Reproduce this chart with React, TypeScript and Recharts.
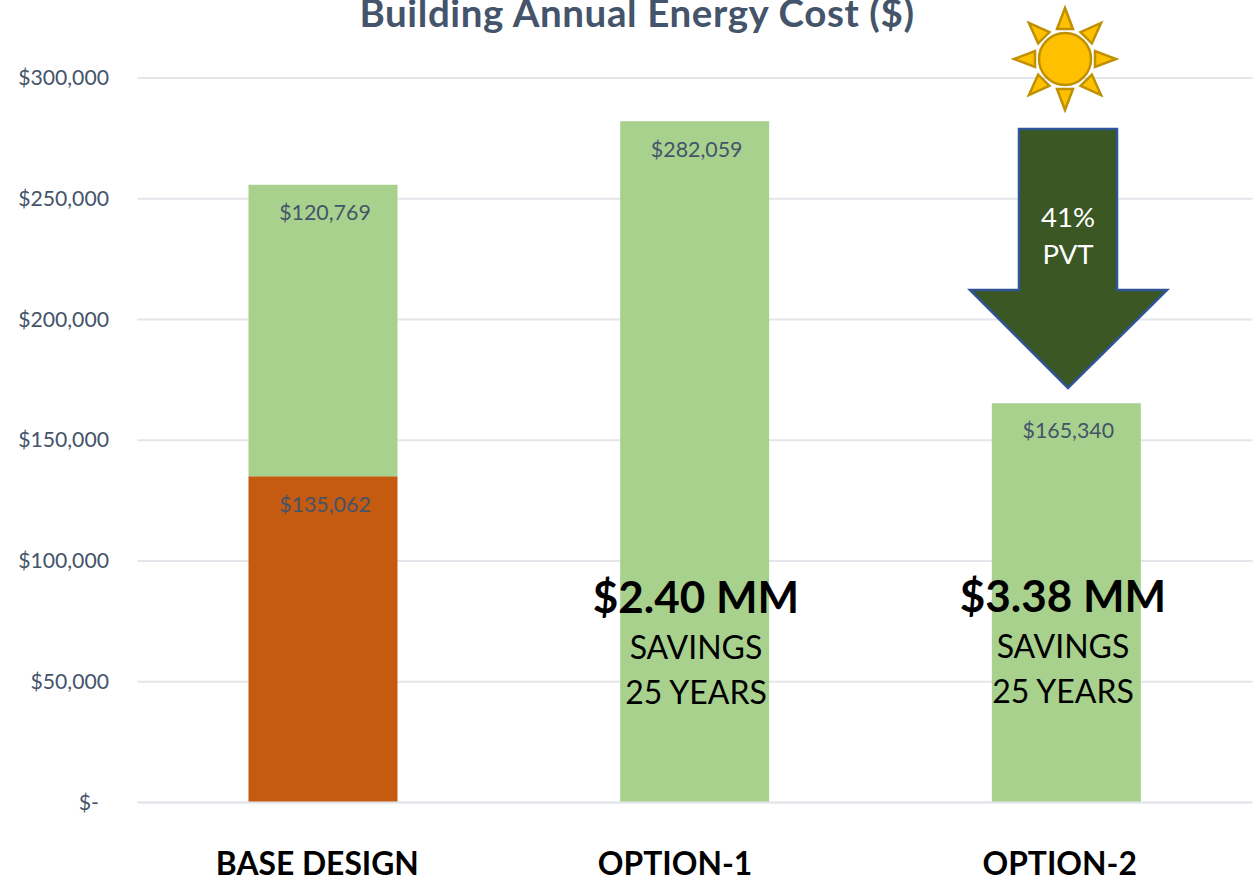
import React from "react";
import { BarChart, Bar, XAxis, YAxis, CartesianGrid, LabelList } from "recharts";

const categories = ["BASE DESIGN", "OPTION-1", "OPTION-2"];
const baseEnergyCost = [135062, null, null];
const remainingEnergyCost = [120769, 282059, 165340];
const yTicks = [0, 50000, 100000, 150000, 200000, 250000, 300000];
const chartTitle = "Building Annual Energy Cost ($)";
const savingsAmounts = ["$2.40 MM", "$3.38 MM"];
const savingsLines = ["SAVINGS", "25 YEARS"];
const arrowLines = ["41%", "PVT"];

const rows = categories.map((name, i) => ({
  name,
  base: baseEnergyCost[i],
  remaining: remainingEnergyCost[i],
}));

const FONT = "Lato, Carlito, sans-serif";
const SLATE = "#44546A";
const GRID = "#E3E6EB";

const money = (v: any) => (v == null ? "" : "$" + Number(v).toLocaleString("en-US"));

const XTickOffsets: Record<string, number> = { "BASE DESIGN": -6, "OPTION-1": -20, "OPTION-2": -7 };

function XTick({ x, payload }: any) {
  return (
    <text x={x + (XTickOffsets[payload.value] ?? 0)} y={875} textAnchor="middle" fontFamily={FONT} fontWeight={700} fontSize={31.8} fill="#000">
      {payload.value}
    </text>
  );
}

function YTick({ y, payload }: any) {
  const zero = payload.value === 0;
  return (
    <text x={zero ? 99 : 109} y={y + 7} textAnchor="end" fontFamily={FONT} fontSize={21.2} fill={SLATE}>
      {zero ? "$-" : money(payload.value)}
    </text>
  );
}

function Sun() {
  const cx = 1065;
  const cy = 59;
  const stroke = "#BF9000";
  return (
    <g>
      {[0, 45, 90, 135, 180, 225, 270, 315].map((a) => (
        <polygon
          key={a}
          points={`${cx},${cy - 51} ${cx + 8},${cy - 30} ${cx - 8},${cy - 30}`}
          transform={`rotate(${a} ${cx} ${cy})`}
          fill="#FFC000"
          stroke={stroke}
          strokeWidth={2.5}
        />
      ))}
      <circle cx={cx} cy={cy} r={26} fill="#FFC000" stroke={stroke} strokeWidth={2.5} />
    </g>
  );
}

function Savings({ x, y, amount }: { x: number; y: number; amount: string }) {
  return (
    <g fontFamily={FONT} fill="#000" textAnchor="middle">
      <text x={x} y={y} fontSize={44} fontWeight={700}>{amount}</text>
      <text x={x} y={y + 46} fontSize={32}>{savingsLines[0]}</text>
      <text x={x} y={y + 91} fontSize={32}>{savingsLines[1]}</text>
    </g>
  );
}

function Annotations() {
  return (
    <svg width={1253} height={879} style={{ position: "absolute", left: 0, top: 0, pointerEvents: "none" }}>
      <text x={637} y={27} textAnchor="middle" fontFamily={FONT} fontWeight={700} fontSize={38.5} letterSpacing={0.6} fill={SLATE}>
        {chartTitle}
      </text>
      <Sun />
      <polygon
        points="1019,129 1117,129 1117,290 1167,290 1068,388 970,290 1019,290"
        fill="#3B5723"
        stroke="#2F5597"
        strokeWidth={2.5}
      />
      <g fontFamily={FONT} fill="#fff" textAnchor="middle" fontSize={27.5}>
        <text x={1068} y={227}>{arrowLines[0]}</text>
        <text x={1068} y={264}>{arrowLines[1]}</text>
      </g>
      <Savings x={696} y={613} amount={savingsAmounts[0]} />
      <Savings x={1063} y={612} amount={savingsAmounts[1]} />
    </svg>
  );
}

export default function App() {
  return (
    <div style={{ position: "absolute", left: 0, top: 0, width: 1253, height: 879, background: "#fff" }}>
      <BarChart width={1253} height={879} data={rows} margin={{ top: 78, right: 0.5, bottom: 0, left: 0 }}>
        <CartesianGrid horizontal vertical={false} stroke={GRID} strokeWidth={2} />
        <XAxis dataKey="name" height={76.5} tickLine={false} axisLine={{ stroke: GRID, strokeWidth: 2 }} tick={<XTick />} interval={0} />
        <YAxis width={137.5} domain={[0, 300000]} ticks={yTicks} tickLine={false} axisLine={false} tick={<YTick />} />
        <Bar dataKey="base" stackId="a" fill="#C55A11" barSize={149} isAnimationActive={false}>
          <LabelList dataKey="base" position="insideTop" offset={20} dx={2} formatter={money} fill={SLATE} fontFamily={FONT} fontSize={21.4} />
        </Bar>
        <Bar dataKey="remaining" stackId="a" fill="#A9D18E" barSize={149} isAnimationActive={false}>
          <LabelList dataKey="remaining" position="insideTop" offset={20} dx={2} formatter={money} fill={SLATE} fontFamily={FONT} fontSize={21.4} />
        </Bar>
      </BarChart>
      <Annotations />
    </div>
  );
}
